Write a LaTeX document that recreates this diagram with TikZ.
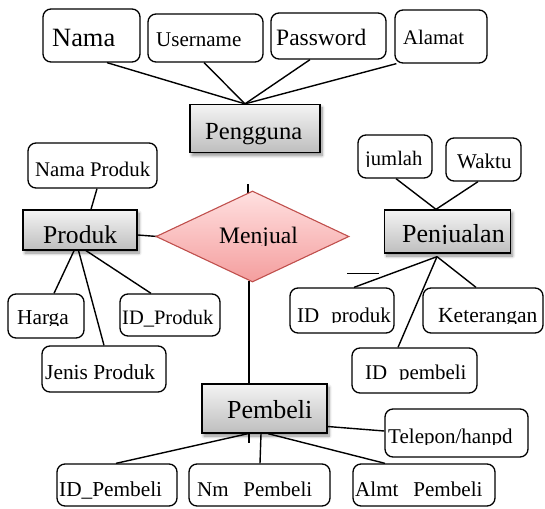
\documentclass[tikz,border=0pt]{standalone}
\usepackage{fontspec}
\setmainfont{Liberation Serif}
\usetikzlibrary{shapes.geometric,shadows.blur,calc}
\pgfdeclarelayer{background}
\pgfsetlayers{background,main}

\definecolor{entitytop}{RGB}{244,244,244}
\definecolor{entitybot}{RGB}{190,190,190}
\definecolor{reltop}{RGB}{255,224,224}
\definecolor{relbot}{RGB}{244,158,158}
\definecolor{relline}{RGB}{192,80,77}

\tikzset{
  attr/.style={draw=black, line width=1.3pt, rounded corners=8pt, fill=white, inner sep=0pt},
  entity/.style={draw=black, line width=1.3pt, inner sep=0pt,
    top color=entitytop, bottom color=entitybot,
    blur shadow={shadow xshift=2pt, shadow yshift=-3pt, shadow blur steps=8,
      shadow blur radius=3pt, shadow opacity=45}},
  relation/.style={diamond, draw=relline, line width=1.1pt, inner sep=0pt,
    top color=reltop, bottom color=relbot},
  link/.style={draw=black, line width=1.4pt},
  lbl/.style={anchor=base west, inner sep=0pt, text=black},
}

% #1 style, #2 name, #3 x, #4 y (centre), #5 width, #6 height
\newcommand\boxnode[6]{\node[#1, minimum width=#5pt, minimum height=#6pt] (#2) at (#3,#4) {};}
% #1 name, #2 left x, #3 baseline y, #4 font size, #5 text
\newcommand\lbl[5]{\node[lbl, font=\fontsize{#4}{#4}\selectfont] (#1) at (#2,#3) {#5};}
% same, with the text cut off #6 below its baseline
\newcommand\cutlbl[6]{\begin{scope}\clip (#2-4,#3-40) rectangle (#2+170,#3+#6);\lbl{#1}{#2}{#3}{#4}{#5}\end{scope}}

\begin{document}
\begin{tikzpicture}[x=1pt,y=-1pt]
\useasboundingbox (0,0) rectangle (545,508);

% Pengguna and its attributes
\boxnode{attr}{nama}{91.5}{35.5}{97}{53}
\boxnode{attr}{username}{205.5}{38}{115}{48}
\boxnode{attr}{password}{328.5}{36}{115}{46}
\boxnode{attr}{alamat}{441}{36.5}{92}{53}
\boxnode{entity}{pengguna}{255}{128.5}{130}{48}

% Penjualan and its attributes
\boxnode{attr}{jumlah}{395}{156.5}{74}{43}
\boxnode{attr}{waktu}{483.5}{159.5}{75}{43}
\boxnode{entity}{penjualan}{447.5}{231.5}{126}{43}
\boxnode{attr}{idprodukjual}{342}{310.5}{104}{45}
\boxnode{attr}{keterangan}{483}{310.5}{120}{45}
\boxnode{attr}{idpembelijual}{414.5}{370.5}{125}{45}

% Produk and its attributes
\boxnode{attr}{namaproduk}{92.5}{165.5}{129}{45}
\boxnode{entity}{produk}{80}{230}{114}{40}
\boxnode{attr}{harga}{46}{316}{76}{44}
\boxnode{attr}{idproduk}{170}{315}{100}{42}
\boxnode{attr}{jenisproduk}{104}{369}{124}{46}

% relationship
\boxnode{relation}{menjual}{252.5}{236.5}{193}{91}

% Pembeli and its attributes
\boxnode{entity}{pembeli}{264.5}{408.5}{125}{49}
\boxnode{attr}{telepon}{456.5}{433}{143}{48}
\boxnode{attr}{idpembeli}{117}{485}{120}{42}
\boxnode{attr}{nmpembeli}{259.5}{485}{141}{42}
\boxnode{attr}{almtpembeli}{424}{485}{142}{42}

% labels
\lbl{tNama}{52}{47}{26.4}{Nama}
\lbl{tUsername}{156}{47}{21}{Username}
\cutlbl{tPassword}{276}{46}{23.5}{Password}{0}
\lbl{tAlamat}{403}{45}{20.7}{Alamat}
\lbl{tPengguna}{205}{139}{24.6}{Pengguna}
\cutlbl{tJumlah}{365}{165}{20.6}{jumlah}{1}
\lbl{tWaktu}{457}{168}{21}{Waktu}
\lbl{tNamaProduk}{35}{176}{20.8}{Nama Produk}
\cutlbl{tProduk}{43}{243}{25.6}{Produk}{-0.5}
\cutlbl{tMenjual}{219}{243}{23.6}{Menjual}{2.5}
\cutlbl{tPenjualan}{402}{242}{26}{Penjualan}{1}
\cutlbl{tHarga}{17}{324}{21.3}{Harga}{1}
\lbl{tIdProduk}{122}{324}{20.5}{ID\_Produk}
\cutlbl{tJenisProduk}{45}{379}{21.4}{Jenis Produk}{0.5}
\cutlbl{tIdProdukJual}{297}{322}{21}{ID\kern0.57em produk}{0.5}
\cutlbl{tKeterangan}{438}{322}{21.5}{Keterangan}{1}
\cutlbl{tIdPembeliJual}{365}{379}{20.9}{ID\kern0.57em pembeli}{0.5}
\lbl{tPembeli}{227}{418}{26}{Pembeli}
\cutlbl{tTelepon}{388}{443}{21}{Telepon/hanpd}{1}
\lbl{tIdPembeli}{59}{496}{21.3}{ID\_Pembeli}
\lbl{tNmPembeli}{197}{496}{21}{Nm\kern0.7em Pembeli}
\lbl{tAlmtPembeli}{355}{496}{21.1}{Almt\kern0.7em Pembeli}

% connectors, kept beneath the boxes
\begin{pgfonlayer}{background}
  \draw[link] ($(nama.south)+(15.5,0)$) -- ($(pengguna.north)+(-10,0)$);
  \draw[link] ($(username.south)+(-1.5,0)$) -- ($(pengguna.north)+(-10,0)$);
  \draw[link] ($(password.south)+(-18.5,0)$) -- ($(pengguna.north)+(-10,0)$);
  \draw[link] ($(alamat.south west)+(2,0)$) -- ($(pengguna.north)+(-10,0)$);

  \draw[link] ($(jumlah.south)+(1,0)$) -- ($(penjualan.north)+(-11.5,0)$);
  \draw[link] ($(waktu.south)+(-5.5,0)$) -- ($(penjualan.north)+(-11.5,0)$);
  \draw[link] ($(penjualan.south)+(-10.5,3)$) -- ($(idprodukjual.north)+(12,0)$);
  \draw[link] ($(penjualan.south)+(-10.5,3)$) -- ($(keterangan.north)+(-7,0)$);
  \draw[link] ($(penjualan.south)+(-10.5,3)$) -- ($(idpembelijual.north)+(-16.5,0)$);
  \draw[link] ($(idprodukjual.north)+(5,-14)$) -- ($(idprodukjual.north)+(37,-14)$);

  \draw[link] ($(namaproduk.south)+(4.5,0)$) -- ($(produk.north)+(11,0)$);
  \draw[link] ($(produk.south)+(-5,-2)$) -- ($(harga.north)+(8,0)$);
  \draw[link] ($(produk.south)+(-2,-2)$) -- (jenisproduk.north);
  \draw[link] ($(produk.south)+(1.5,-3)$) -- ($(idproduk.north)+(-19,0)$);

  \draw[link] ($(produk.east)+(0,5)$) -- ($(menjual.west)+(2,0)$);
  \draw[link] ($(menjual.south)+(-3.5,-2)$) -- ($(pembeli.north)+(-15.5,0)$);
  \draw[link] ($(menjual.north)+(-4.5,-6)$) -- ($(menjual.north)+(-4.5,3)$);
  \draw[link] ($(pembeli.south)+(-15.5,-2)$) -- ($(pembeli.south)+(-15.5,9)$);

  \draw[link] ($(pembeli.east)+(0,18)$) -- ($(telepon.west)+(0,-2)$);
  \draw[link] ($(pembeli.south)+(-16.5,0)$) -- ($(idpembeli.north)+(-1,0)$);
  \draw[link] ($(pembeli.south)+(-3.5,0)$) -- ($(nmpembeli.north)+(0.5,0)$);
  \draw[link] ($(pembeli.south)+(3.5,0)$) -- ($(almtpembeli.north)+(-39,0)$);
\end{pgfonlayer}
\end{tikzpicture}
\end{document}
